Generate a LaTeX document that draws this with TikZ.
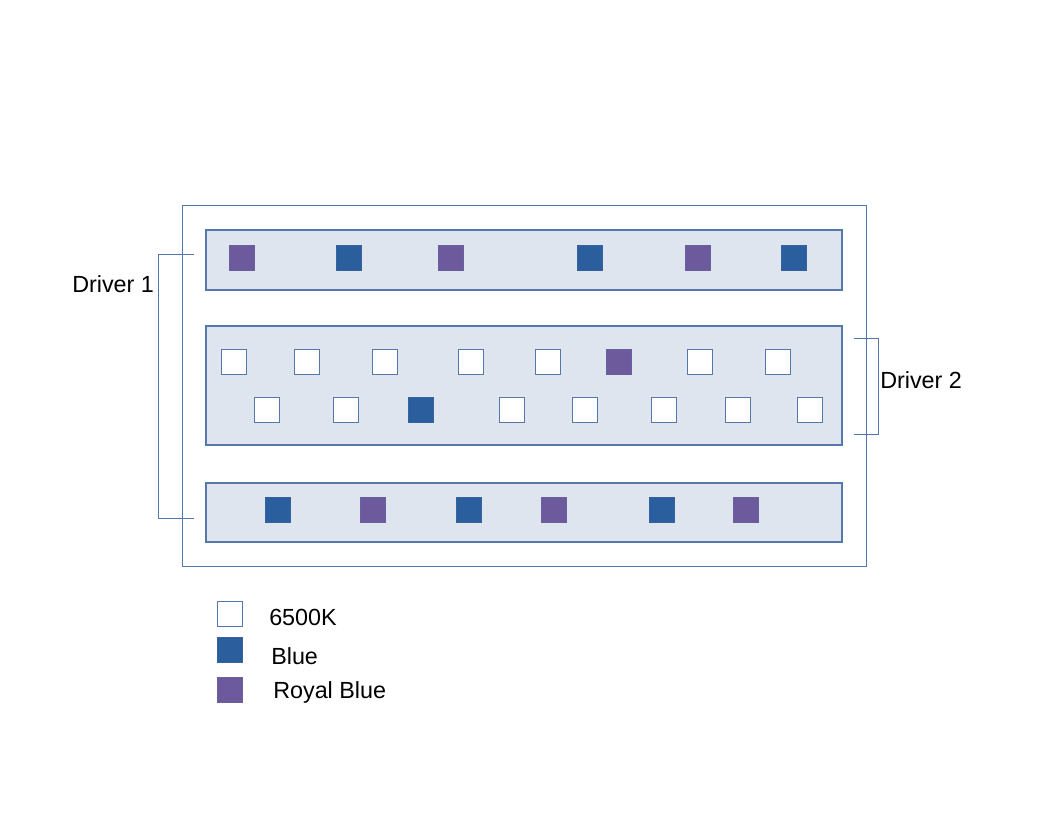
\documentclass[tikz,border=0pt]{standalone}
\usepackage{fontspec}
\setmainfont{Liberation Sans}
\begin{document}
\begin{tikzpicture}[x=0.75pt,y=-0.75pt,
  frame/.style={draw=edgec, line width=0.75pt},
  strip/.style={draw=edgec, fill=stripc, line width=0.85pt},
  led/.style={draw=edgec, line width=0.6pt, minimum size=18.5pt, inner sep=0pt, outer sep=0pt},
  wled/.style={led, fill=white},
  blu/.style={led, fill=bluec, draw=bluec!80!edgec},
  roy/.style={led, fill=royc, draw=royc!80!edgec},
  brk/.style={draw=edgec, line width=0.7pt},
  lbl/.style={font=\fontsize{17.5}{20}\selectfont, inner sep=0pt, anchor=west}]
\definecolor{edgec}{HTML}{5677AC}
\definecolor{stripc}{HTML}{DEE5EF}
\definecolor{bluec}{HTML}{2B5E9C}
\definecolor{royc}{HTML}{6D5A9C}
\useasboundingbox (0,0) rectangle (1056,816);
% outer frame
\draw[frame] (182,206) rectangle (866,566);
% strips
\draw[strip] (206,230) rectangle (842,290);
\draw[strip] (206,326) rectangle (842,445);
\draw[strip] (206,483) rectangle (842,542);
% top row
\node[roy] (t1) at (242,258) {};
\node[blu] (t2) at (349,258) {};
\node[roy] (t3) at (451,258) {};
\node[blu] (t4) at (590,258) {};
\node[roy] (t5) at (698,258) {};
\node[blu] (t6) at (794,258) {};
% middle row 1
\node[wled] (m1) at (234,362) {};
\node[wled] (m2) at (307,362) {};
\node[wled] (m3) at (385,362) {};
\node[wled] (m4) at (471,362) {};
\node[wled] (m5) at (548,362) {};
\node[roy] (m6) at (619,362) {};
\node[wled] (m7) at (700,362) {};
\node[wled] (m8) at (778,362) {};
% middle row 2
\node[wled] (n1) at (267,410) {};
\node[wled] (n2) at (346,410) {};
\node[blu] (n3) at (421,410) {};
\node[wled] (n4) at (512,410) {};
\node[wled] (n5) at (585,410) {};
\node[wled] (n6) at (664,410) {};
\node[wled] (n7) at (738,410) {};
\node[wled] (n8) at (810,410) {};
% bottom row
\node[blu] (b1) at (278,510) {};
\node[roy] (b2) at (373,510) {};
\node[blu] (b3) at (469,510) {};
\node[roy] (b4) at (554,510) {};
\node[blu] (b5) at (662,510) {};
\node[roy] (b6) at (746,510) {};
% Driver 1 bracket
\coordinate (d1a) at (194,254);
\coordinate (d1b) at (194,518);
\draw[brk] (d1a) -- (158,254) -- (158,518) -- (d1b);
\node[lbl] (d1) at (72,284) {Driver 1};
% Driver 2 bracket
\coordinate (d2a) at (854,338);
\coordinate (d2b) at (854,434);
\draw[brk] (d2a) -- (878,338) -- (878,434) -- (d2b);
\node[lbl] (d2) at (880,380) {Driver 2};
% legend
\node[wled] (lw) at (230,614) {};
\node[blu] (lb) at (230,650) {};
\node[roy] (lr) at (230,690) {};
\node[lbl] (tw) at (269,617) {6500K};
\node[lbl] (tb) at (271,656) {Blue};
\node[lbl] (tr) at (273,692) {Royal Blue};
\end{tikzpicture}
\end{document}
